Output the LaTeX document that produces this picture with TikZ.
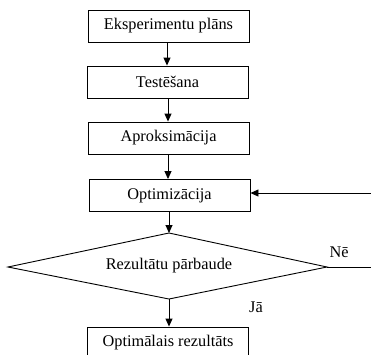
\documentclass[tikz,border=0pt]{standalone}
\usepackage{fontspec}
\setmainfont{Liberation Serif}
\usetikzlibrary{arrows.meta,shapes.geometric}
\begin{document}
\begin{tikzpicture}[x=1pt,y=-1pt,
  every node/.style={font=\fontsize{16.3}{18}\selectfont},
  stepbox/.style={draw,line width=0.9pt,minimum width=161pt,minimum height=32pt,inner sep=0pt},
  arr/.style={line width=0.9pt,-{Triangle[length=8pt,width=7pt]}}]
\useasboundingbox (0,0) rectangle (371,354);
\begin{scope}
\clip (0,0) rectangle (371,354);
\node[stepbox] (b1) at (168.5,26) {Eksperimentu plāns};
\node[stepbox] (b2) at (167.5,82) {Testēšana};
\node[stepbox] (b3) at (168.5,138) {Aproksimācija};
\node[stepbox] (b4) at (169.5,195.5) {Optimizācija};
\draw[line width=0.9pt] (8,267) coordinate (dl) -- (169,233) coordinate (dt) -- (327,267) coordinate (dr) -- (169,299) coordinate (db) -- cycle;
\node (d) at (169,266) {Rezultātu pārbaude};
\node[stepbox] (b5) at (168,343) {Optimālais rezultāts};
\coordinate (e1) at (372,267);
\coordinate (e2) at (372,193);
\draw[arr] (b1.south -| 167,0) -- (b2.north -| 167,0);
\draw[arr] (b2.south -| 168,0) -- (b3.north -| 168,0);
\draw[arr] (b3.south -| 168,0) -- (b4.north -| 168,0);
\draw[arr] (b4.south -| 169,0) -- (dt);
\draw[arr] (db) -- (b5.north -| 169,0);
\draw[line width=0.9pt] (dr) -- (e1);
\draw[arr] (e2) -- (b4.east |- e2);
\node (ne) at (339,252) {Nē};
\node (ja) at (256,307) {Jā};
\end{scope}
\end{tikzpicture}
\end{document}
